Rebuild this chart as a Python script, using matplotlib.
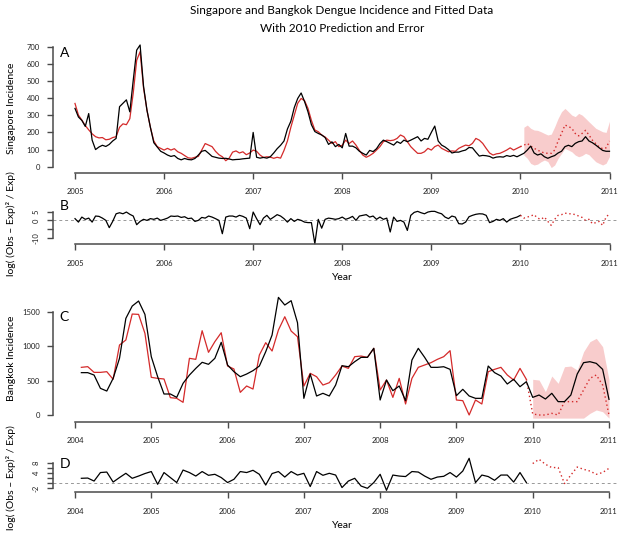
import numpy as np
import matplotlib
matplotlib.use("Agg")
import matplotlib.pyplot as plt

plt.rcParams['font.family'] = ['Lato', 'DejaVu Sans']
plt.rcParams['axes.unicode_minus'] = False

# ---- Singapore, biweekly readings (t = 2005 + i/26) ----
sg_obs = [340, 290, 270, 235, 310, 155, 100, 115, 125, 118, 130, 150, 165, 350, 370, 390, 320, 505, 680, 710, 470, 330, 230, 140, 115, 90,
          80, 68, 60, 65, 48, 40, 48, 42, 40, 48, 68, 90, 95, 78, 60, 55, 50, 48, 49, 45, 40, 42, 43, 46, 48, 50,
          200, 55, 50, 54, 50, 58, 80, 105, 125, 150, 220, 265, 345, 398, 430, 380, 320, 245, 205, 194, 185, 170, 130, 145, 117, 130,
          110, 194, 120, 120, 110, 90, 78, 68, 95, 88, 105, 135, 155, 146, 136, 126, 146, 136, 155, 146, 155, 165, 175, 150, 165, 160,
          200, 237, 150, 126, 115, 100, 80, 85, 85, 92, 97, 112, 110, 85, 62, 66, 64, 60, 50, 56, 58, 56, 65, 60, 66, 58,
          68, 78, 97, 120, 80, 68, 75, 58, 49, 58, 65, 80, 90, 117, 125, 117, 136, 146, 150, 175, 150, 140, 126, 110, 95, 90, 90]
sg_fit = [369, 301, 272, 240, 215, 192, 175, 168, 170, 157, 160, 170, 175, 230, 250, 245, 280, 430, 620, 671, 460, 330, 230, 150, 117, 107,
          97, 107, 97, 105, 87, 78, 65, 52, 49, 55, 60, 97, 135, 126, 117, 90, 70, 58, 35, 50, 85, 92, 80, 87, 70, 80,
          97, 90, 68, 54, 58, 56, 49, 55, 50, 95, 150, 230, 300, 370, 398, 385, 340, 270, 214, 204, 185, 173, 155, 136, 146, 117,
          125, 155, 135, 150, 126, 95, 68, 55, 65, 78, 97, 117, 146, 155, 152, 155, 165, 185, 175, 146, 117, 97, 78, 78, 87, 107,
          97, 117, 126, 107, 97, 87, 92, 90, 107, 117, 126, 122, 136, 165, 155, 136, 107, 80, 68, 75, 78, 87, 97, 110, 97, 107, 117]
sg_pred = [117, 125, 136, 120, 107, 97, 87, 80, 78, 78, 97, 150, 194, 243, 235, 224, 194, 180, 194, 212, 185, 155, 134, 115, 105, 110, 150]
sg_hi = [230, 243, 224, 214, 212, 204, 194, 185, 190, 233, 282, 321, 340, 321, 301, 292, 311, 301, 282, 262, 243, 224, 214, 204, 200, 265]
sg_lo = [68, 49, 19, 10, 15, 29, 39, 30, -5, 10, 49, 78, 107, 97, 87, 68, 58, 65, 78, 70, 49, 29, 19, 10, 20, 60]

sg_err = [1.0, -1.0, 1.9, 0.6, 1.3, -1.0, 2.5, 2.3, 1.3, 0.0, -4.2, -0.6, 3.8, 4.4, 3.8, 4.8, 3.5, 2.5, -2.5, -0.6, 0.6, 0.0, 1.0, 0.6, 1.3, 0.0,
          0.6, 1.3, 2.5, 2.3, 2.5, 1.7, 2.1, 1.0, 1.3, -0.6, 0.0, 1.7, 1.3, 2.5, 1.9, 1.0, 0.0, -7.7, 1.9, 2.5, 2.5, 1.9, 2.9, 2.3, 1.3, -4.8,
          4.8, 1.0, -2.5, 1.3, 2.9, 0.6, 1.9, 3.3, 2.5, 1.0, -1.0, 1.0, -0.6, 0.6, 0.0, -1.0, -1.3, -1.3, -13.5, 0.6, -4.5, 0.6, 1.3, 1.0, 0.6, 1.0,
          1.9, 0.6, 1.3, 2.3, 0.0, 2.5, 2.9, 3.3, 1.9, 2.5, 0.6, 1.9, 0.6, 1.3, -6.7, 1.9, -0.6, 0.0, -1.0, -5.8, 2.9, 4.6, 5.2, 4.4, 3.8, 4.8,
          5.2, 5.2, 4.4, 3.8, 1.9, 1.0, 2.5, 1.9, -1.9, -2.1, -1.0, 2.1, 2.9, 3.5, 3.8, 3.7, 2.9, -1.3, -0.6, 0.6, 0.0, 1.0, -1.0, 0.6, 1.3, 1.9, 2.9]
sg_err_pred = [2.9, 1.3, 1.9, 2.5, 3.3, 1.3, 0.6, 1.9, -0.6, -2.9, 0.6, 2.9, 3.3, 4.2, 3.8, 3.8, 3.3, 2.5, 1.7, 0.0, 0.6, -1.9, -1.3, -0.6, -2.9, 1.9, 3.8]

# ---- Bangkok, monthly (t = 2004 + m/12) ----
bk_obs = [615, 615, 580, 387, 348, 532, 823, 1403, 1582, 1655, 1461, 847,
          556, 305, 305, 256, 460, 580, 677, 765, 736, 823, 1055, 726,
          629, 556, 595, 644, 711, 919, 1161, 1708, 1597, 1660, 1340, 242,
          595, 276, 315, 276, 435, 716, 701, 774, 837, 837, 968, 218,
          508, 353, 421, 208, 798, 968, 837, 692, 692, 701, 663, 281,
          373, 276, 242, 242, 711, 615, 566, 450, 518, 411, 484, 256,
          290, 232, 315, 194, 194, 290, 595, 760, 774, 750, 663, 227]
bk_fit = [692, 702, 619, 619, 629, 518, 1016, 1089, 1466, 1461, 1186, 547,
          532, 523, 252, 242, 184, 823, 808, 1224, 910, 1065, 1195, 711,
          668, 329, 421, 377, 871, 1050, 929, 1234, 1427, 1219, 1137, 420,
          605, 556, 435, 469, 581, 711, 677, 847, 856, 837, 968, 363,
          508, 256, 532, 160, 532, 692, 726, 760, 808, 847, 934, 218,
          208, 0, 218, 160, 629, 663, 692, 581, 508, 677, 518]
bk_pred = [518, 15, 0, 0, 24, 0, 194, 194, 194, 363, 532, 581, 435, 0]
bk_hi = [518, 508, 339, 566, 460, 701, 711, 653, 919, 1065, 1113, 992, 508]
bk_lo = [-45, -45, -45, -45, -45, -45, -45, -45, -45, 24, 73, 48, -45]

bk_err = [2.0, 2.1, 0.9, 4.3, 4.5, 0.5, 2.3, 4.0, 2.0, 2.9, 3.9, 4.7,
          -0.4, 4.3, 2.3, 0.3, 5.3, 4.3, 2.9, 4.7, 3.2, 3.6, 2.3, 0.3,
          1.6, 4.7, 4.3, 5.2, 3.6, -0.7, 3.9, 4.7, 2.5, 4.7, 3.3, 4.0,
          -1.3, 4.7, 3.2, 4.0, 3.3, -1.7, 0.9, 2.0, -1.1, -2.0, 0.3, 3.6,
          -2.8, 3.3, 2.9, 2.7, 4.7, 4.5, 2.9, 1.6, 2.5, 2.8, 4.3, 2.5,
          4.9, 10.0, 0.3, 3.3, 2.7, 1.2, 3.3, 3.3, 0.5, 4.3, 0.3]
bk_err_pred = [7.9, 9.6, 7.6, 6.3, 6.3, -0.1, 3.3, 6.5, 5.6, 4.9, 3.6, 4.3, 6.0]

sg_t = 2005 + np.arange(len(sg_obs)) / 26
sg_tp = sg_t[130:]
bk_t = 2004 + np.arange(1, len(bk_obs) + 1) / 12
bk_tp = bk_t[70:]

RED = '#d42a2a'
PINK = '#f8cccc'
AXC = '#4a4a4a'
W, H = 619, 539
fig = plt.figure(figsize=(W / 100, H / 100), dpi=100)


def add_panel(xv, xp, yv, yp, top, bottom, left=53.3, right=619):
    sx = (xp[1] - xp[0]) / (xv[1] - xv[0])
    sy = (yp[1] - yp[0]) / (yv[1] - yv[0])
    ax = fig.add_axes([left / W, 1 - bottom / H, (right - left) / W, (bottom - top) / H])
    ax.set_xlim(xv[0] + (left - xp[0]) / sx, xv[0] + (right - xp[0]) / sx)
    ax.set_ylim(yv[0] + (bottom - yp[0]) / sy, yv[0] + (top - yp[0]) / sy)
    ax.patch.set_alpha(0)
    for s in ['top', 'right']:
        ax.spines[s].set_visible(False)
    for s in ['left', 'bottom']:
        ax.spines[s].set_color(AXC)
        ax.spines[s].set_linewidth(1.1)
    ax.tick_params(colors=AXC, width=1.0, length=4.3, labelsize=5.5, labelcolor='#222222')
    ax.tick_params(axis='x', pad=7)
    ax.tick_params(axis='y', pad=5.5)
    return ax


def year_axis(ax, y0, y1):
    yrs = list(range(y0, y1 + 1))
    ax.set_xticks(yrs)
    ax.set_xticklabels([str(y) for y in yrs])
    ax.spines['bottom'].set_bounds(y0, y1)


# A
ax = add_panel((2005, 2011), (75, 609.5), (0, 700), (166.7, 46.7), 38, 172.7)
ax.fill_between(sg_t[131:], sg_lo, sg_hi, color=PINK, lw=0, clip_on=False)
ax.plot(sg_t[:131], sg_fit, color=RED, lw=0.9)
ax.plot(sg_tp, sg_pred, color=RED, lw=1.0, ls=(0, (1, 2)))
ax.plot(sg_t, sg_obs, color='black', lw=0.9)
ax.set_yticks(range(0, 701, 100))
ax.spines['left'].set_bounds(0, 700)
year_axis(ax, 2005, 2011)
ax.text(2004.83, 640, 'A', fontsize=10)

# B
ax = add_panel((2005, 2011), (75, 609.5), (-10, 5), (237.7, 211.7), 200, 244.3)
ax.axhline(0, color='#999999', lw=0.7, ls=(0, (3, 3)))
ax.plot(sg_t[:131], sg_err, color='black', lw=0.9, clip_on=False)
ax.plot(sg_tp, sg_err_pred, color=RED, lw=1.0, ls=(0, (1, 2)))
ax.set_yticks([-10, -5, 0, 5])
ax.set_yticklabels(['-10', '', '0', '5'], rotation=90, va='center')
ax.spines['left'].set_bounds(-10, 5)
year_axis(ax, 2005, 2011)
ax.text(2004.83, 6.0, 'B', fontsize=10)

# C
ax = add_panel((2004, 2011), (75, 609), (0, 1500), (415, 311.7), 290, 421.7)
ax.fill_between(bk_t[71:], bk_lo, bk_hi, color=PINK, lw=0)
ax.plot(bk_t[:71], bk_fit, color=RED, lw=0.9)
ax.plot(bk_tp, bk_pred, color=RED, lw=1.0, ls=(0, (1, 2)))
ax.plot(bk_t, bk_obs, color='black', lw=0.9)
ax.set_yticks(range(0, 1501, 500))
ax.spines['left'].set_bounds(0, 1500)
year_axis(ax, 2004, 2011)
ax.text(2003.795, 1370, 'C', fontsize=10)

# D
ax = add_panel((2004, 2011), (75, 609), (-2, 8), (488.3, 463.3), 452, 492.3)
ax.axhline(0, color='#999999', lw=0.7, ls=(0, (3, 3)))
ax.plot(bk_t[:71], bk_err, color='black', lw=0.9, clip_on=False)
ax.plot(bk_t[71:], bk_err_pred, color=RED, lw=1.0, ls=(0, (1, 2)))
ax.set_yticks(range(-2, 9, 2))
ax.set_yticklabels(['-2', '', '', '4', '', '8'], rotation=90, va='center')
ax.spines['left'].set_bounds(-2, 8)
year_axis(ax, 2004, 2011)
ax.text(2003.80, 6.2, 'D', fontsize=10)

# text
fig.text(342 / W, 1 - 10.5 / H, 'Singapore and Bangkok Dengue Incidence and Fitted Data',
         ha='center', va='center', fontsize=8.5)
fig.text(342 / W, 1 - 28 / H, 'With 2010 Prediction and Error', ha='center', va='center', fontsize=8.5)
fig.text(11 / W, 1 - 108 / H, 'Singapore Incidence', rotation=90, ha='center', va='center', fontsize=7.5)
fig.text(11 / W, 1 - 358 / H, 'Bangkok Incidence', rotation=90, ha='center', va='center', fontsize=7.5)
elab = 'log( (Obs – Exp)² / Exp)'
fig.text(11 / W, 1 - 224 / H, elab, rotation=90, ha='center', va='center', fontsize=7.5)
fig.text(11 / W, 1 - 478 / H, elab, rotation=90, ha='center', va='center', fontsize=7.5)
fig.text(342 / W, 1 - 278 / H, 'Year', ha='center', va='center', fontsize=7.5)
fig.text(342 / W, 1 - 526 / H, 'Year', ha='center', va='center', fontsize=7.5)

fig.savefig('out.png', dpi=100)
